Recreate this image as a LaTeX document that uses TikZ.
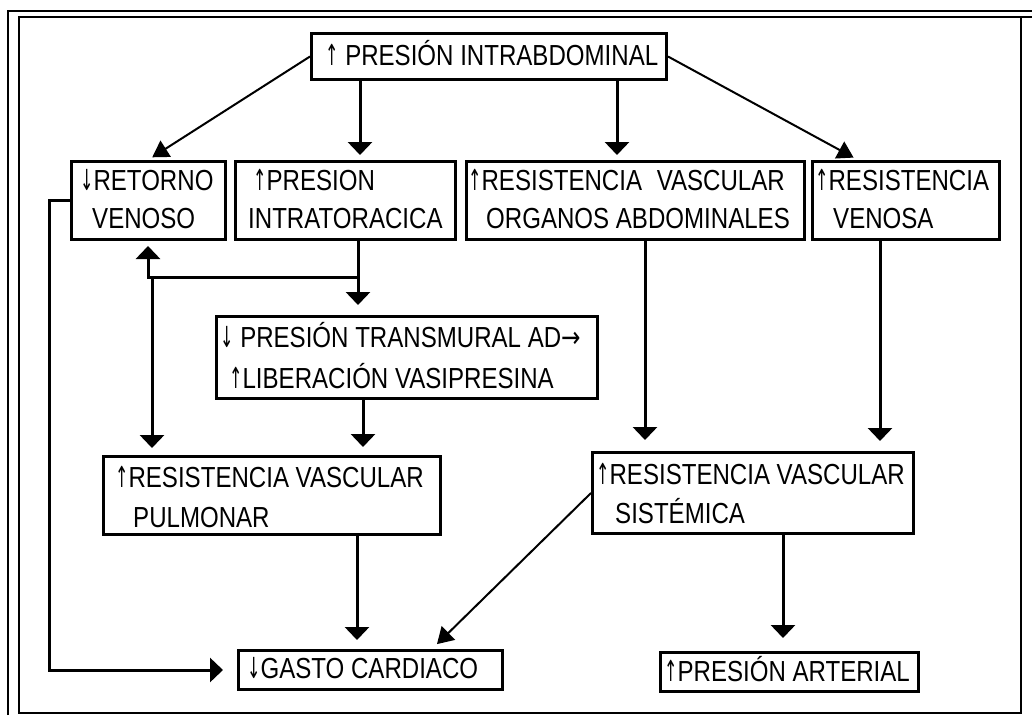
\documentclass[tikz,border=0pt]{standalone}
\usepackage{fontspec}
\setmainfont{Liberation Sans}[FakeStretch=0.83]
\newfontfamily\arrfont{DejaVu Sans}[FakeStretch=0.55]
\newfontfamily\arrfontw{DejaVu Sans}[FakeStretch=0.8]
\newcommand\myup{{\arrfont ↑}}
\newcommand\mydown{{\arrfont ↓}}
\newcommand\myright{{\arrfontw →}}
\usetikzlibrary{arrows.meta}
\begin{document}
\begin{tikzpicture}[x=1pt,y=-1pt,
  box/.style={draw, line width=3pt, inner sep=0pt, anchor=north west},
  txt/.style={anchor=base west, inner sep=0pt, font=\fontsize{29}{36}\selectfont},
  arr/.style={line width=3pt, -{Triangle[width=24pt,length=13pt]}},
  darr/.style={line width=2pt, -{Triangle[width=19pt,length=16pt]}}]
\useasboundingbox (0,0) rectangle (1032,715);
% frame
\draw[line width=2.5pt] (8,715) -- (8,11) -- (1032,11);
\draw[line width=1.2pt] (1032,17) -- (19,17) -- (19,713) -- (1021,713) -- (1021,17);
% boxes
\node[box, minimum width=355pt, minimum height=46pt] (top) at (310,32) {};
\node[box, minimum width=154pt, minimum height=78pt] (ret) at (70,160) {};
\node[box, minimum width=220pt, minimum height=78pt] (intra) at (234,160) {};
\node[box, minimum width=338pt, minimum height=78pt] (org) at (465,160) {};
\node[box, minimum width=187pt, minimum height=78pt] (ven) at (811,160) {};
\node[box, minimum width=381pt, minimum height=82pt] (trans) at (215,315) {};
\node[box, minimum width=337pt, minimum height=78pt] (pul) at (102,455) {};
\node[box, minimum width=321pt, minimum height=81pt] (sis) at (591,451) {};
\node[box, minimum width=264pt, minimum height=39pt] (gas) at (237,649) {};
\node[box, minimum width=258pt, minimum height=39pt] (art) at (659,651) {};
% texts
\node[txt] (ttop) at (325,65) {\myup\ PRESIÓN INTRABDOMINAL};
\node[txt] (tret1) at (80,190) {\mydown RETORNO};
\node[txt] (tret2) at (92,228) {VENOSO};
\node[txt] (tint1) at (253,190) {\myup PRESION};
\node[txt] (tint2) at (248,228) {INTRATORACICA};
\node[txt] (torg1) at (468,190) {\myup RESISTENCIA\hspace{8pt} VASCULAR};
\node[txt] (torg2) at (486,228) {ORGANOS ABDOMINALES};
\node[txt] (tven1) at (815,190) {\myup RESISTENCIA};
\node[txt] (tven2) at (833,228) {VENOSA};
\node[txt] (ttr1) at (220,347) {\mydown\ PRESIÓN TRANSMURAL AD\myright};
\node[txt] (ttr2) at (229,388) {\myup LIBERACIÓN VASIPRESINA};
\node[txt] (tpul1) at (115,487) {\myup RESISTENCIA VASCULAR};
\node[txt] (tpul2) at (133,527) {PULMONAR};
\node[txt] (tsis1) at (596,484) {\myup RESISTENCIA VASCULAR};
\node[txt] (tsis2) at (615,523) {SISTÉMICA};
\node[txt] (tgas) at (247,678) {\mydown GASTO CARDIACO};
\node[txt] (tart) at (664,681) {\myup PRESIÓN ARTERIAL};
% helper x positions
\coordinate (x148) at (148,0);
\coordinate (x152) at (152,0);
\coordinate (x358) at (358,0);
\coordinate (x360) at (360,0);
\coordinate (x363) at (363,0);
\coordinate (x617) at (617,0);
\coordinate (x645) at (645,0);
\coordinate (x858) at (858,0);
\coordinate (x880) at (880,0);
\coordinate (x783) at (783,0);
\coordinate (x357) at (357,0);
\coordinate (x432) at (432,0);
\coordinate (x49) at (49,0);
\coordinate (y277) at (0,277);
% connectors
\draw[darr, shorten >=5pt] (top.west) -- (ret.north -| x148);
\draw[arr, shorten >=5pt] (top.south -| x360) -- (intra.north -| x360);
\draw[arr, shorten >=5pt] (top.south -| x617) -- (org.north -| x617);
\draw[darr, shorten >=5pt] (top.east) -- (ven.north -| x858);
\draw[arr, shorten >=10pt] (intra.south -| x358) -- (trans.north -| x358);
\draw[arr, shorten >=5pt] (y277 -| x358) -- (y277 -| x148) -- (ret.south -| x148);
\draw[arr, shorten >=7pt] (y277 -| x152) -- (pul.north -| x152);
\draw[arr, shorten >=8pt] (trans.south -| x363) -- (pul.north -| x363);
\draw[arr, shorten >=11pt] (org.south -| x645) -- (sis.north -| x645);
\draw[arr, shorten >=10pt] (ven.south -| x880) -- (sis.north -| x880);
\draw[darr, shorten >=7pt] (sis.west) -- (gas.north -| x432);
\draw[arr, shorten >=13pt] (sis.south -| x783) -- (art.north -| x783);
\draw[arr, shorten >=9pt] (pul.south -| x357) -- (gas.north -| x357);
\draw[arr, shorten >=14pt] (ret.west) -- (ret.west -| x49) |- (gas.west);
\end{tikzpicture}
\end{document}
